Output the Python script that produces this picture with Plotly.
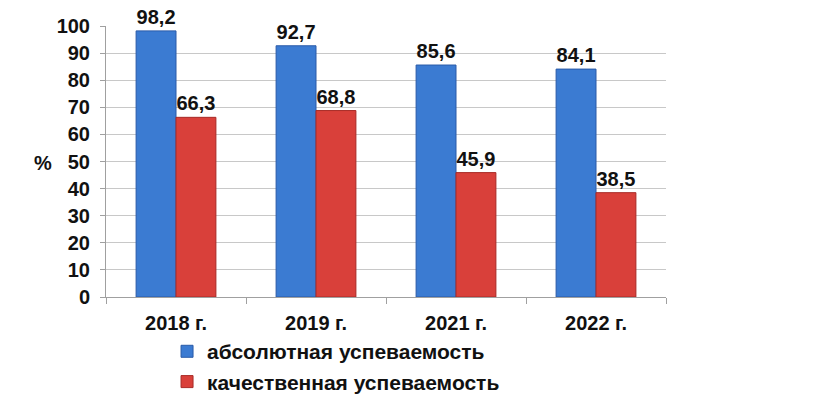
import plotly.graph_objects as go

categories = ["2018 г.", "2019 г.", "2021 г.", "2022 г."]
absolute = [98.2, 92.7, 85.6, 84.1]
quality = [66.3, 68.8, 45.9, 38.5]
series_names = ["абсолютная успеваемость", "качественная успеваемость"]
y_ticks = list(range(0, 101, 10))

FONT = "Liberation Sans, Arial, sans-serif"
FS = 20

fig = go.Figure()
fig.add_trace(go.Bar(
    x=categories, y=absolute, name=series_names[0],
    marker=dict(color="#3B7BD2", line=dict(color="#2A5BA8", width=1)),
    texttemplate="%{y:.1f}", textposition="outside",
    textfont=dict(family=FONT, size=FS, color="#111", weight="bold"),
    cliponaxis=False,
))
fig.add_trace(go.Bar(
    x=categories, y=quality, name=series_names[1],
    marker=dict(color="#D9403A", line=dict(color="#A82A26", width=1)),
    texttemplate="%{y:.1f}", textposition="outside",
    textfont=dict(family=FONT, size=FS, color="#111", weight="bold"),
    cliponaxis=False,
))

fig.update_layout(
    width=816, height=398,
    margin=dict(l=98, r=158, t=18, b=109, autoexpand=False),
    paper_bgcolor="white", plot_bgcolor="white",
    separators=", ",
    barmode="group", bargap=0.43, bargroupgap=0,
    font=dict(family=FONT, color="#111"),
    showlegend=True,
    legend=dict(
        x=0.109, y=-0.126, xanchor="left", yanchor="top",
        orientation="v",
        font=dict(family=FONT, size=21, color="#111", weight="bold"),
        itemwidth=30, tracegroupgap=3,
        bgcolor="rgba(0,0,0,0)",
    ),
    uniformtext=dict(minsize=FS, mode="show"),
)
fig.update_xaxes(
    type="category", automargin=False,
    showline=True, linecolor="#a0a0a0", linewidth=1,
    ticks="outside", tickson="boundaries", ticklen=6, tickcolor="#a0a0a0",
    ticklabelstandoff=8,
    tickfont=dict(family=FONT, size=FS, color="#111", weight="bold"),
    showgrid=False,
)
fig.update_yaxes(
    range=[0, 100], tickvals=y_ticks, automargin=False,
    showline=True, linecolor="#a0a0a0", linewidth=1,
    ticks="outside", ticklen=5, tickcolor="#a0a0a0",
    ticklabelstandoff=6,
    tickfont=dict(family=FONT, size=FS, color="#111", weight="bold"),
    showgrid=True, gridcolor="#c8c8c8", gridwidth=1,
    zeroline=False,
)
fig.add_annotation(
    text="%", xref="paper", yref="paper", x=-0.132, y=0.495,
    showarrow=False, font=dict(family=FONT, size=FS, color="#111", weight="bold"),
)

fig.write_html("out.html")
